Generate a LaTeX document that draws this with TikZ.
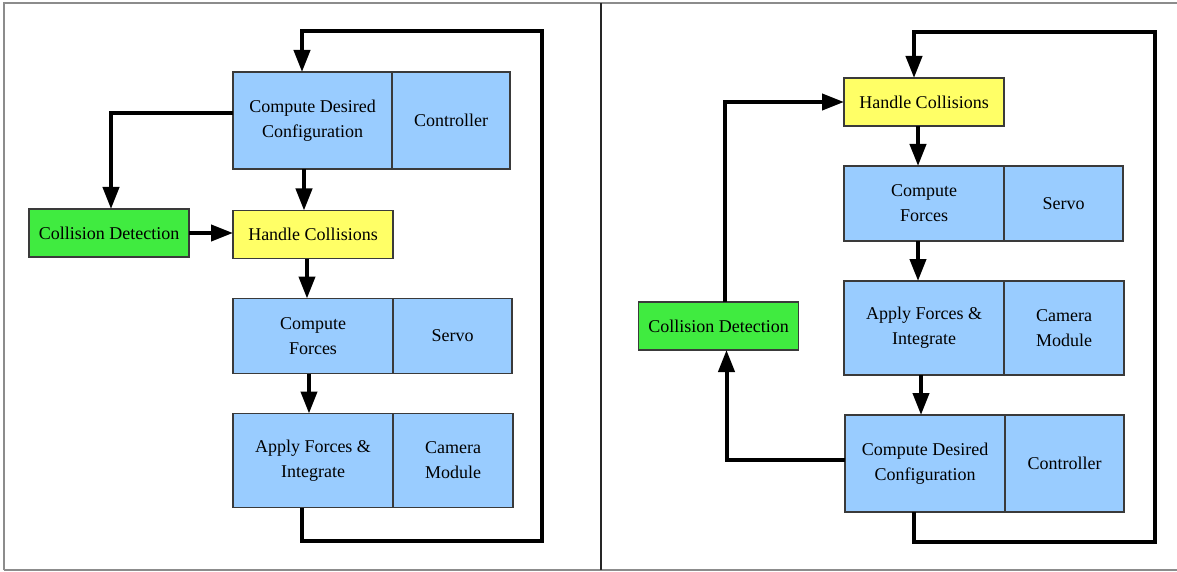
\documentclass[tikz,border=0pt]{standalone}
\usepackage{fontspec}
\setmainfont{Liberation Serif}
\newfontfamily\boxfont{Liberation Serif}
\usetikzlibrary{arrows.meta,calc}
\definecolor{ink}{HTML}{3A3A3A}
\definecolor{stage}{HTML}{99CCFF}
\definecolor{detect}{HTML}{40EB40}
\definecolor{handle}{HTML}{FFFF66}
\definecolor{frame}{HTML}{8C8C8C}

\begin{document}
\begin{tikzpicture}[
    x=1pt, y=-1pt,
    >={Triangle[length=22pt, width=16pt]},
    every node/.style={font=\boxfont\fontsize{18}{25}\selectfont, text=black},
    unit/.style={draw=ink, line width=1.2pt, fill=#1, inner sep=0pt,
        outer sep=0pt, align=center},
    unit/.default=stage,
    flow/.style={line width=4pt, black},
]
\useasboundingbox (0,0) rectangle (1177,572);

% Frame and divider
\draw[frame, line width=2pt] (4,570) -- (4,3) -- (1177,3);
\draw[frame, line width=2pt] (4,570) -- (1177,570);
\draw[black!85, line width=2.5pt] (601,3) -- (601,570);

% ---- Left: detection before handling ----
\node[unit, minimum width=159pt, minimum height=97pt] (cdcA) at (312.5,120.5)
    {Compute Desired\\Configuration};
\node[unit, minimum width=118pt, minimum height=97pt, anchor=west] (cdcB)
    at (cdcA.east) {Controller};

\node[unit=handle, minimum width=160pt, minimum height=48pt] (hc) at (313,234.5)
    {Handle Collisions};
\node[unit=detect, minimum width=160pt, minimum height=48pt] (cd) at (109,233)
    {Collision Detection};

\node[unit, minimum width=160pt, minimum height=75pt] (cfA) at (313,336)
    {Compute\\Forces};
\node[unit, minimum width=119pt, minimum height=75pt, anchor=west] (cfB)
    at (cfA.east) {Servo};

\node[unit, minimum width=160pt, minimum height=94pt] (afA) at (313,460.5)
    {Apply Forces \&\\Integrate};
\node[unit, minimum width=120pt, minimum height=94pt, anchor=west] (afB)
    at (afA.east) {Camera\\Module};

\coordinate (backL) at (542,541);
\coordinate (topL) at (542,31);

\draw[flow, ->] ([yshift=7.5pt]cdcA.west) -| ([xshift=2pt]cd.north);
\draw[flow, ->] (cd.east) -- (cd.east -| hc.west);
\draw[flow, ->] ([xshift=-8.5pt]cdcA.south) -- ([xshift=-8.5pt]cdcA.south |- hc.north);
\draw[flow, ->] ([xshift=-6pt]hc.south) -- ([xshift=-6pt]hc.south |- cfA.north);
\draw[flow, ->] ([xshift=-4pt]cfA.south) -- ([xshift=-4pt]cfA.south |- afA.north);
\draw[flow, ->] ([xshift=-11pt]afA.south) |- (backL) -- (topL)
    -| ([xshift=-10.5pt]cdcA.north);

% ---- Right: detection after the controller ----
\node[unit=handle, minimum width=160pt, minimum height=48pt] (hc2) at (924,102)
    {Handle Collisions};

\node[unit, minimum width=160pt, minimum height=75pt] (cf2A) at (924,203.5)
    {Compute\\Forces};
\node[unit, minimum width=119pt, minimum height=75pt, anchor=west] (cf2B)
    at (cf2A.east) {Servo};

\node[unit, minimum width=160pt, minimum height=94pt] (af2A) at (924,328)
    {Apply Forces \&\\Integrate};
\node[unit, minimum width=120pt, minimum height=94pt, anchor=west] (af2B)
    at (af2A.east) {Camera\\Module};

\node[unit, minimum width=160pt, minimum height=97pt] (cdc2A) at (925,463.5)
    {Compute Desired\\Configuration};
\node[unit, minimum width=119pt, minimum height=97pt, anchor=west] (cdc2B)
    at (cdc2A.east) {Controller};

\node[unit=detect, minimum width=160pt, minimum height=48pt] (cd2) at (718.5,326)
    {Collision Detection};

\coordinate (backR) at (1155,542);
\coordinate (topR) at (1155,32);

\draw[flow, ->] ([xshift=-6pt]hc2.south) -- ([xshift=-6pt]hc2.south |- cf2A.north);
\draw[flow, ->] ([xshift=-6pt]cf2A.south) -- ([xshift=-6pt]cf2A.south |- af2A.north);
\draw[flow, ->] ([xshift=-3pt]af2A.south) -- ([xshift=-3pt]af2A.south |- cdc2A.north);
\draw[flow, ->] ([yshift=3.5pt]cdc2A.west) -| ([xshift=8pt]cd2.south);
\draw[flow, ->] ([xshift=6.5pt]cd2.north) |- (hc2.west);
\draw[flow, ->] ([xshift=-11pt]cdc2A.south) |- (backR) -- (topR)
    -| ([xshift=-10pt]hc2.north);

\end{tikzpicture}
\end{document}
